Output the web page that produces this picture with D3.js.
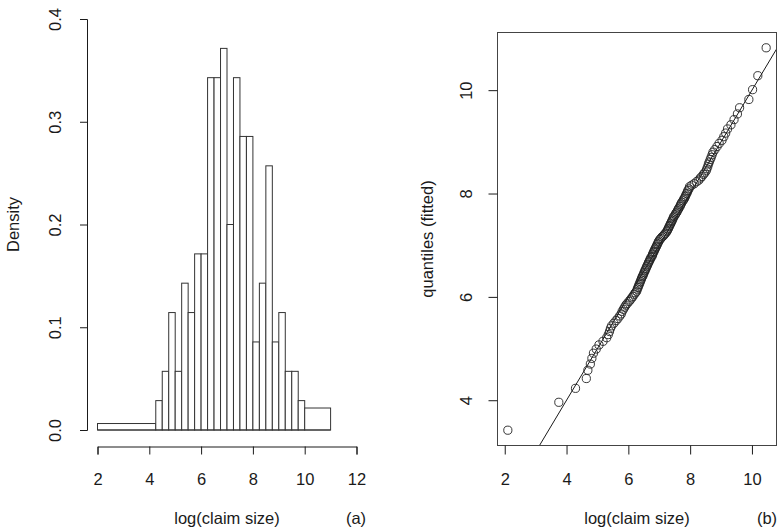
<!DOCTYPE html>
<html>
<head>
<meta charset="utf-8">
<script src="https://cdn.jsdelivr.net/npm/d3@7"></script>
<style>
  body { margin: 0; background: #fff; }
  svg { display: block; }
  text { font-family: "Liberation Sans", Arial, sans-serif; font-size: 16.5px; fill: #1a1a1a; }
</style>
</head>
<body>
<svg id="chart" width="778" height="532"></svg>
<script>
// (a) histogram of log(claim size): bin breaks and densities
const histBreaks = [2, 4.25, 4.5, 4.75, 5, 5.25, 5.5, 5.75, 6, 6.25, 6.5, 6.75, 7,
  7.25, 7.5, 7.75, 8, 8.25, 8.5, 8.75, 9, 9.25, 9.5, 9.75, 10, 11]
const histDensity = [0.0063, 0.0286, 0.0571, 0.1143, 0.0571, 0.1429, 0.1143, 0.1714,
  0.1714, 0.3429, 0.3429, 0.3714, 0.2, 0.3429, 0.2857, 0.2857, 0.0857, 0.1429,
  0.2571, 0.0857, 0.1143, 0.0571, 0.0571, 0.0286, 0.0214]
const histXTicks = [2, 4, 6, 8, 10, 12]
const histYTicks = [0, 0.1, 0.2, 0.3, 0.4]

// (b) QQ plot: sorted log(claim size) against fitted quantiles
const qqX = [2.10, 3.75, 4.29, 4.64, 4.69, 4.77, 4.82, 4.87, 4.96, 5.05,
  5.18, 5.30, 5.35, 5.39, 5.42, 5.46, 5.53, 5.60, 5.66, 5.72,
  5.77, 5.80, 5.84, 5.88, 5.92, 5.96, 6.02, 6.06, 6.11, 6.15,
  6.19, 6.23, 6.27, 6.29, 6.31, 6.33, 6.35, 6.37, 6.39, 6.41,
  6.43, 6.45, 6.47, 6.49, 6.51, 6.53, 6.55, 6.57, 6.59, 6.61,
  6.63, 6.65, 6.67, 6.69, 6.71, 6.73, 6.76, 6.78, 6.79, 6.81,
  6.83, 6.85, 6.87, 6.89, 6.91, 6.93, 6.95, 6.97, 6.99, 7.02,
  7.05, 7.09, 7.13, 7.17, 7.20, 7.24, 7.26, 7.28, 7.30, 7.32,
  7.34, 7.36, 7.38, 7.40, 7.42, 7.44, 7.46, 7.48, 7.52, 7.54,
  7.57, 7.59, 7.62, 7.64, 7.67, 7.69, 7.71, 7.73, 7.77, 7.79,
  7.82, 7.84, 7.86, 7.89, 7.91, 7.93, 7.96, 7.98, 8.05, 8.13,
  8.21, 8.28, 8.33, 8.38, 8.43, 8.47, 8.52, 8.54, 8.57, 8.59,
  8.62, 8.65, 8.68, 8.71, 8.74, 8.80, 8.87, 8.94, 9.03, 9.09,
  9.15, 9.21, 9.32, 9.42, 9.53, 9.60, 9.90, 10.02, 10.19, 10.46]
const qqY = [3.42, 3.96, 4.23, 4.42, 4.58, 4.70, 4.81, 4.91, 4.99, 5.07,
  5.14, 5.21, 5.27, 5.33, 5.39, 5.44, 5.49, 5.54, 5.58, 5.63,
  5.67, 5.72, 5.76, 5.80, 5.84, 5.87, 5.91, 5.94, 5.98, 6.01,
  6.05, 6.08, 6.11, 6.15, 6.18, 6.21, 6.24, 6.27, 6.30, 6.33,
  6.36, 6.39, 6.41, 6.44, 6.47, 6.50, 6.52, 6.55, 6.58, 6.60,
  6.63, 6.66, 6.68, 6.71, 6.73, 6.76, 6.78, 6.81, 6.83, 6.86,
  6.88, 6.91, 6.93, 6.96, 6.98, 7.01, 7.03, 7.06, 7.08, 7.11,
  7.13, 7.16, 7.18, 7.21, 7.23, 7.26, 7.28, 7.31, 7.33, 7.36,
  7.38, 7.41, 7.43, 7.46, 7.48, 7.51, 7.54, 7.56, 7.59, 7.62,
  7.64, 7.67, 7.70, 7.72, 7.75, 7.78, 7.80, 7.83, 7.86, 7.89,
  7.91, 7.94, 7.97, 8.00, 8.03, 8.06, 8.09, 8.13, 8.16, 8.19,
  8.23, 8.26, 8.30, 8.33, 8.37, 8.40, 8.44, 8.48, 8.52, 8.57,
  8.61, 8.66, 8.70, 8.75, 8.80, 8.85, 8.91, 8.97, 9.03, 9.10,
  9.17, 9.25, 9.33, 9.43, 9.54, 9.66, 9.82, 10.01, 10.28, 10.82]
const qqXTicks = [2, 4, 6, 8, 10]
const qqYTicks = [4, 6, 8, 10]
// reference line y = a + b x
const refIntercept = 0
const refSlope = 1

const svg = d3.select('#chart')
const ink = '#1a1a1a'

// ---------- panel (a) ----------
const hx = d3.scaleLinear().domain([2, 12]).range([97.5, 356.5])
const hy = d3.scaleLinear().domain([0, 0.4]).range([430, 19])

const bins = histDensity.map((d, i) => ({ x0: histBreaks[i], x1: histBreaks[i + 1], d: d }))

svg.append('g')
  .selectAll('rect')
  .data(bins)
  .enter()
    .append('rect')
    .attr('x', d => hx(d.x0))
    .attr('y', d => hy(d.d))
    .attr('width', d => hx(d.x1) - hx(d.x0))
    .attr('height', d => hy(0) - hy(d.d))
    .attr('fill', '#fff')
    .attr('stroke', '#333')
    .attr('stroke-width', 1)

// the baseline under the bars
svg.append('line')
  .attr('x1', hx(2)).attr('x2', hx(11))
  .attr('y1', hy(0)).attr('y2', hy(0))
  .attr('stroke', '#333')

function styleAxis(g) {
  g.selectAll('path, line').attr('stroke', ink).attr('stroke-width', 1)
  g.selectAll('text').attr('fill', ink).style('font-size', '16.5px')
    .style('font-family', '"Liberation Sans", Arial, sans-serif')
}

function rotateLabels(g, off) {
  g.selectAll('.tick text')
    .attr('x', null).attr('y', null).attr('dy', null)
    .attr('text-anchor', 'middle')
    .attr('transform', `translate(${off},0) rotate(-90)`)
}

svg.append('g')
  .attr('transform', 'translate(0,446.5)')
  .call(d3.axisBottom(hx).tickValues(histXTicks).tickSizeOuter(0).tickSize(8).tickPadding(19))
  .call(styleAxis)

svg.append('g')
  .attr('transform', 'translate(87,0)')
  .call(d3.axisLeft(hy).tickValues(histYTicks).tickFormat(d3.format('.1f')).tickSizeOuter(0).tickSize(7))
  .call(styleAxis)
  .call(g => rotateLabels(g, -26))

svg.append('text')
  .attr('transform', `translate(19,${(hy(0) + hy(0.4)) / 2}) rotate(-90)`)
  .attr('text-anchor', 'middle')
  .text('Density')

svg.append('text')
  .attr('x', (hx(2) + hx(12)) / 2).attr('y', 524)
  .attr('text-anchor', 'middle')
  .text('log(claim size)')

svg.append('text')
  .attr('x', 356).attr('y', 524)
  .attr('text-anchor', 'middle')
  .text('(a)')

// ---------- panel (b) ----------
const box = { left: 497.5, right: 776.5, top: 32.5, bottom: 445.5 }
// R style 4% padding on both ends
function padded(v) {
  const lo = d3.min(v), hi = d3.max(v), e = (hi - lo) * 0.04
  return [lo - e, hi + e]
}
const qx = d3.scaleLinear().domain(padded(qqX)).range([box.left, box.right])
const qy = d3.scaleLinear().domain(padded(qqY)).range([box.bottom, box.top])

svg.append('clipPath').attr('id', 'qq-clip')
  .append('rect')
  .attr('x', box.left).attr('y', box.top)
  .attr('width', box.right - box.left).attr('height', box.bottom - box.top)

const refLine = qx.domain().map(x => [x, refIntercept + refSlope * x])
svg.append('path')
  .attr('clip-path', 'url(#qq-clip)')
  .attr('d', d3.line().x(d => qx(d[0])).y(d => qy(d[1]))(refLine))
  .attr('fill', 'none')
  .attr('stroke', ink)
  .attr('stroke-width', 1)

svg.append('g')
  .selectAll('circle')
  .data(qqX.map((x, i) => ({ x: x, y: qqY[i] })))
  .enter()
    .append('circle')
    .attr('cx', d => qx(d.x))
    .attr('cy', d => qy(d.y))
    .attr('r', 4.1)
    .attr('fill', 'none')
    .attr('stroke', '#222')
    .attr('stroke-width', 0.9)

svg.append('rect')
  .attr('x', box.left).attr('y', box.top)
  .attr('width', box.right - box.left).attr('height', box.bottom - box.top)
  .attr('fill', 'none')
  .attr('stroke', '#444')
  .attr('stroke-width', 1)

svg.append('g')
  .attr('transform', `translate(0,${box.bottom})`)
  .call(d3.axisBottom(qx).tickValues(qqXTicks).tickSizeOuter(0).tickSize(9).tickPadding(19))
  .call(styleAxis)
  .call(g => g.select('.domain').remove())

svg.append('g')
  .attr('transform', `translate(${box.left},0)`)
  .call(d3.axisLeft(qy).tickValues(qqYTicks).tickSizeOuter(0).tickSize(9))
  .call(styleAxis)
  .call(g => g.select('.domain').remove())
  .call(g => rotateLabels(g, -26))

svg.append('text')
  .attr('transform', `translate(433,${(box.top + box.bottom) / 2}) rotate(-90)`)
  .attr('text-anchor', 'middle')
  .text('quantiles (fitted)')

svg.append('text')
  .attr('x', (box.left + box.right) / 2).attr('y', 524)
  .attr('text-anchor', 'middle')
  .text('log(claim size)')

svg.append('text')
  .attr('x', 767).attr('y', 524)
  .attr('text-anchor', 'middle')
  .text('(b)')
</script>
</body>
</html>
